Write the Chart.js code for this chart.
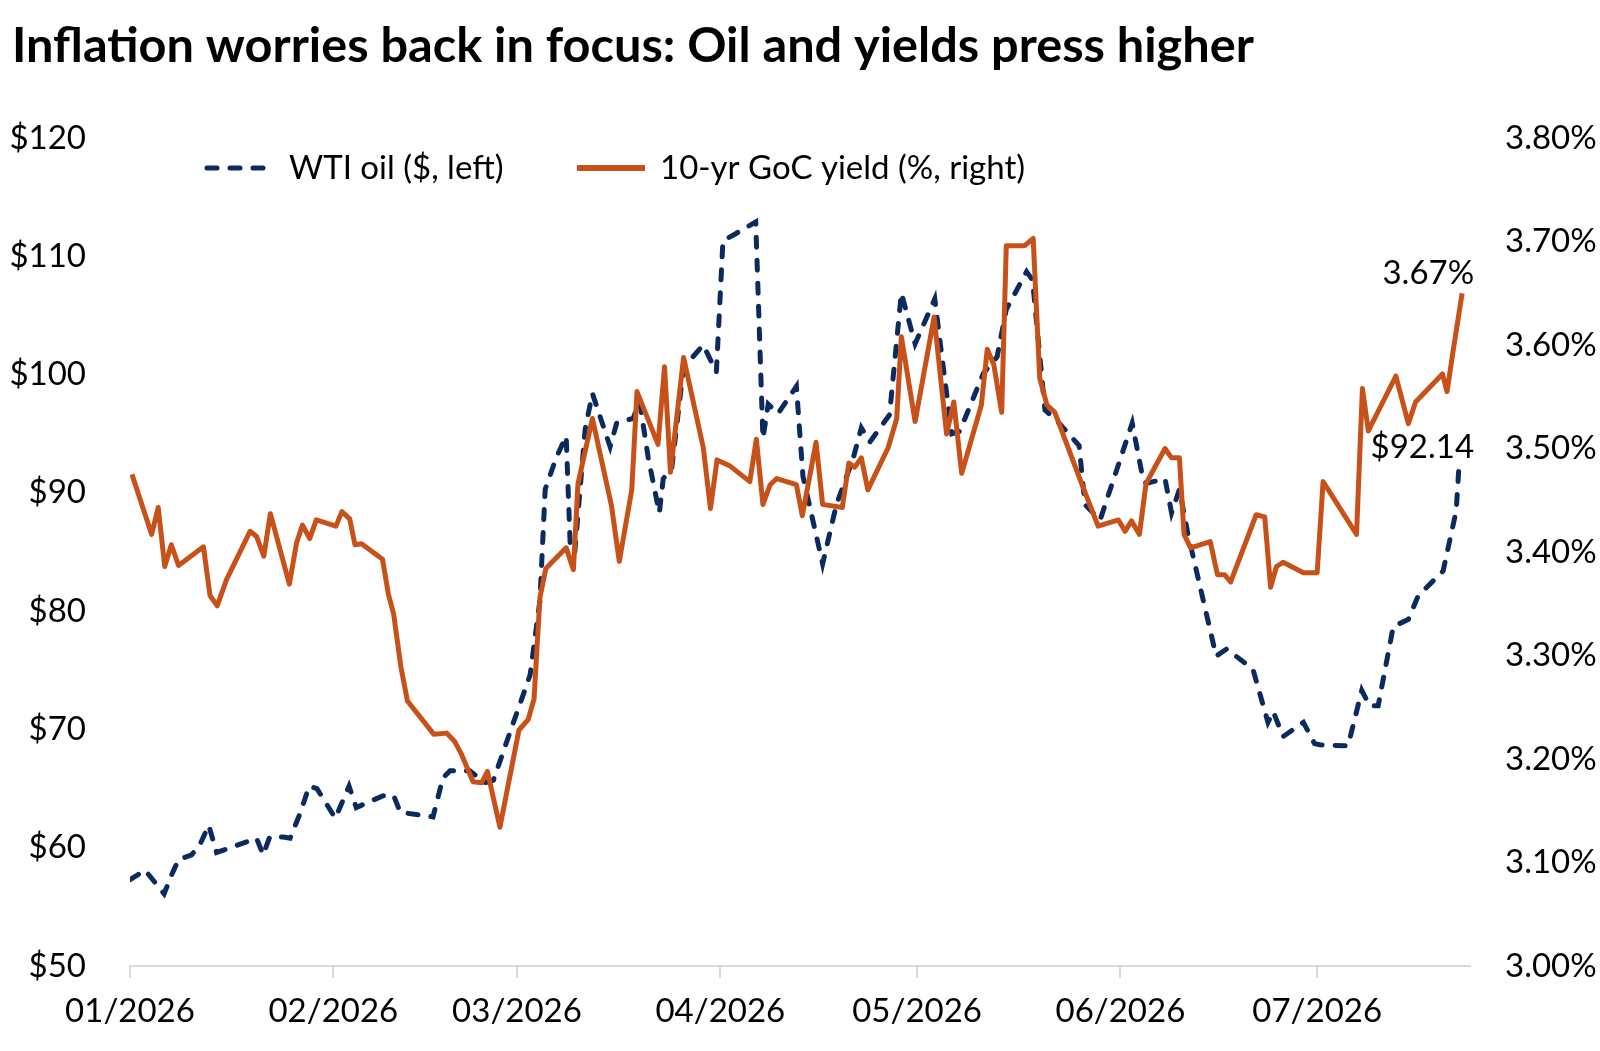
<!DOCTYPE html>
<html>
<head>
<meta charset="utf-8">
<script src="https://cdn.jsdelivr.net/npm/chart.js@4.4.1/dist/chart.umd.min.js"></script>
<style>
  html, body { margin: 0; padding: 0; background: #fff; }
  canvas { display: block; }
</style>
</head>
<body>
<canvas id="myChart" width="1600" height="1051"></canvas>
<script>
const titleText = "Inflation worries back in focus: Oil and yields press higher";
const seriesNames = ["WTI oil ($, left)", "10-yr GoC yield (%, right)"];
const endLabels = ["$92.14", "3.67%"];

// days counted from 01/01/2026
const monthStarts = [0, 31, 59, 90, 120, 151, 181];
const monthLabels = ["01/2026", "02/2026", "03/2026", "04/2026", "05/2026", "06/2026", "07/2026"];

const oilDays = [
  0, 2.3, 5.2, 6.1, 7.4, 9.4, 10.7, 12.0, 13.2, 15.8, 19.3, 20.3, 21.3, 23.4, 24.4, 26.0, 27.3, 28.5,
  31.3, 33.4, 34.5, 38.6, 40.2, 41.2, 46.2, 47.7, 48.8, 51.8, 54.1, 55.4, 57.9, 61.0, 62.5, 63.3,
  65.0, 66.5, 67.1, 67.8, 69.4, 70.5, 73.2, 74.2, 76.7, 77.7, 79.0, 80.7, 81.3, 82.6, 84.4, 87.4,
  89.4, 90.4, 92.0, 95.4, 96.5, 97.3, 98.8, 101.6, 102.6, 105.6, 107.7, 110.3, 111.5, 112.8, 115.8,
  117.6, 119.7, 122.7, 123.7, 125.3, 126.5, 130.1, 132.2, 133.6, 136.7, 137.6, 139.5, 141.3, 144.7,
  145.6, 147.9, 152.8, 154.5, 155.0, 157.8, 158.8, 160.0, 161.3, 165.6, 167.2, 171.2, 173.5, 174.3,
  175.8, 178.9, 180.6, 181.4, 185.7, 187.8, 189.0, 190.3, 192.6, 194.9, 196.4, 200.2, 202.2, 202.6, 204.0
];
const oilPrices = [
  57.3, 58.1, 56.1, 57.4, 59.0, 59.4, 60.3, 61.9, 59.6, 60.1, 60.8, 59.4, 60.9, 60.9, 60.8, 63.0, 65.2, 65.0,
  62.5, 65.2, 63.4, 64.4, 64.4, 63.0, 62.6, 65.9, 66.5, 66.5, 65.5, 65.7, 69.7, 74.6, 80.9, 90.3,
  93.0, 94.8, 85.8, 84.9, 95.4, 98.4, 93.9, 95.9, 96.3, 97.7, 93.0, 88.3, 91.2, 92.1, 100.6, 102.5,
  100.2, 111.3, 111.8, 112.9, 94.6, 97.5, 96.7, 99.0, 91.4, 84.0, 89.0, 93.0, 95.5, 94.3, 96.6,
  106.9, 102.6, 106.4, 101.9, 95.0, 95.2, 100.1, 101.5, 105.5, 108.7, 108.0, 97.0, 96.1, 94.0,
  89.0, 87.7, 95.9, 91.0, 90.8, 91.2, 88.3, 90.3, 86.5, 76.2, 76.8, 75.1, 70.6, 71.5,
  69.4, 70.6, 68.8, 68.7, 68.6, 73.3, 72.0, 72.0, 78.7, 79.3, 81.3, 83.4, 88.5, 92.1, 92.2
];

const yieldDays = [
  0.3, 3.3, 4.3, 5.3, 6.3, 7.4, 11.2, 12.2, 13.3, 14.7, 18.3, 19.3, 20.4, 21.4, 24.3, 25.4, 26.3, 27.4,
  28.4, 31.4, 32.3, 33.5, 34.3, 35.3, 38.5, 39.4, 40.2, 41.3, 42.3, 46.3, 48.3, 49.5, 50.5, 52.3, 53.6,
  54.5, 56.4, 59.3, 60.7, 61.6, 62.5, 63.4, 66.5, 67.6, 68.3, 70.5, 73.4, 74.6, 76.5, 77.3, 80.5,
  81.5, 82.4, 84.4, 87.4, 88.5, 89.5, 91.5, 94.5, 95.5, 96.5, 97.6, 98.6, 101.6, 102.5, 104.6, 105.6,
  108.6, 109.6, 110.5, 111.5, 112.5, 115.6, 116.9, 117.6, 119.7, 122.6, 124.5, 125.6, 126.8, 129.8,
  130.7, 131.7, 132.9, 133.6, 136.4, 137.7, 138.7, 139.8, 141.0, 144.8, 147.6, 150.7, 151.7, 152.7,
  153.9, 154.9, 157.8, 158.8, 160.0, 160.7, 161.7, 164.7, 165.8, 166.9, 167.8, 171.7, 173.0, 173.9,
  174.8, 175.8, 178.9, 181.0, 181.9, 187.0, 187.9, 188.8, 193.0, 194.9, 196.0, 200.1, 200.8, 201.7, 203.1
];
const yieldValues = [
  3.475, 3.417, 3.443, 3.386, 3.407, 3.387, 3.405, 3.358, 3.348, 3.373, 3.420, 3.415, 3.396, 3.437, 3.369, 3.409, 3.426, 3.413,
  3.431, 3.425, 3.439, 3.432, 3.407, 3.408, 3.393, 3.359, 3.340, 3.289, 3.256, 3.224, 3.225, 3.217, 3.205, 3.178, 3.177,
  3.188, 3.134, 3.228, 3.238, 3.258, 3.356, 3.384, 3.404, 3.383, 3.466, 3.529, 3.445, 3.391, 3.460, 3.555, 3.504,
  3.579, 3.477, 3.588, 3.501, 3.442, 3.489, 3.483, 3.468, 3.509, 3.446, 3.465, 3.471, 3.465, 3.435, 3.506, 3.446,
  3.443, 3.486, 3.482, 3.491, 3.460, 3.501, 3.529, 3.608, 3.526, 3.627, 3.514, 3.545, 3.476, 3.542,
  3.596, 3.581, 3.535, 3.696, 3.696, 3.703, 3.568, 3.542, 3.535, 3.471, 3.425, 3.431, 3.420, 3.430,
  3.417, 3.466, 3.500, 3.491, 3.491, 3.417, 3.404, 3.410, 3.378, 3.378, 3.371, 3.436, 3.434, 3.366,
  3.386, 3.390, 3.380, 3.380, 3.468, 3.417, 3.558, 3.517, 3.570, 3.524, 3.545, 3.572, 3.555, 3.593, 3.650
];

const navy = "#0B2A5E";
const orange = "#C8511A";
const oilDash = [10, 13];
const fontName = "Lato";

Chart.defaults.font.family = fontName;
Chart.defaults.color = "#000";

// title, legend inside the plot and the end-of-series labels
const overlay = {
  id: "overlay",
  afterDraw(chart) {
    const ctx = chart.ctx;
    ctx.save();
    ctx.fillStyle = "#000";
    ctx.textBaseline = "middle";

    ctx.font = "bold 44px " + fontName;
    let size = 44 * 1241 / ctx.measureText(titleText).width;
    ctx.font = "bold " + size.toFixed(1) + "px " + fontName;
    ctx.textAlign = "left";
    ctx.fillText(titleText, 12, 46);

    // legend
    ctx.lineWidth = 5;
    ctx.lineCap = "round";
    ctx.strokeStyle = navy;
    ctx.setLineDash(oilDash);
    ctx.beginPath();
    ctx.moveTo(207, 168);
    ctx.lineTo(265, 168);
    ctx.stroke();
    ctx.setLineDash([]);
    ctx.lineCap = "butt";
    ctx.lineWidth = 6;
    ctx.strokeStyle = orange;
    ctx.beginPath();
    ctx.moveTo(577, 168);
    ctx.lineTo(645, 168);
    ctx.stroke();
    ctx.font = "33px " + fontName;
    ctx.fillText(seriesNames[0], 289, 168);
    ctx.fillText(seriesNames[1], 660, 168);

    // end labels
    const xs = chart.scales.x;
    const n1 = oilDays.length - 1;
    const n2 = yieldDays.length - 1;
    const ox = xs.getPixelForValue(oilDays[n1]);
    const oy = chart.scales.y.getPixelForValue(oilPrices[n1]);
    const yx = xs.getPixelForValue(yieldDays[n2]);
    const yy = chart.scales.y1.getPixelForValue(yieldValues[n2]);
    ctx.textAlign = "right";
    ctx.fillText(endLabels[0], ox + 6, oy - 19);
    ctx.fillText(endLabels[1], yx + 12, yy - 20);
    ctx.restore();
  }
};

new Chart(document.getElementById("myChart"), {
  type: "line",
  data: {
    datasets: [
      {
        label: seriesNames[0],
        data: oilDays.map((d, i) => ({ x: d, y: oilPrices[i] })),
        yAxisID: "y",
        borderColor: navy,
        borderWidth: 5,
        borderDash: oilDash,
        borderCapStyle: "round",
        pointRadius: 0,
        tension: 0,
        order: 2,
      },
      {
        label: seriesNames[1],
        data: yieldDays.map((d, i) => ({ x: d, y: yieldValues[i] })),
        yAxisID: "y1",
        borderColor: orange,
        borderWidth: 5,
        borderJoinStyle: "round",
        pointRadius: 0,
        tension: 0,
        order: 1,
      },
    ],
  },
  options: {
    responsive: false,
    animation: false,
    devicePixelRatio: 1,
    layout: { padding: { top: 138, left: 0, right: 0, bottom: 0 } },
    plugins: {
      legend: { display: false },
      tooltip: { enabled: false },
    },
    scales: {
      x: {
        type: "linear",
        min: 0,
        max: 204.3,
        afterBuildTicks: (axis) => {
          axis.ticks = monthStarts.map((v) => ({ value: v }));
        },
        afterFit: (axis) => { axis.height = 85; },
        ticks: {
          callback: (v) => monthLabels[monthStarts.indexOf(v)],
          autoSkip: false,
          maxRotation: 0,
          padding: 14,
          font: { size: 33 },
        },
        grid: {
          drawOnChartArea: false,
          tickLength: 12,
          color: "#d9d9d9",
          lineWidth: 2,
        },
        border: { color: "#d9d9d9", width: 2 },
      },
      y: {
        position: "left",
        min: 50,
        max: 120,
        afterFit: (axis) => { axis.width = 130; },
        ticks: {
          stepSize: 10,
          callback: (v) => "$" + v,
          padding: 44,
          font: { size: 33 },
        },
        grid: { display: false, drawTicks: false },
        border: { display: false },
      },
      y1: {
        position: "right",
        min: 3.0,
        max: 3.8,
        afterFit: (axis) => { axis.width = 130; },
        ticks: {
          stepSize: 0.1,
          callback: (v) => v.toFixed(2) + "%",
          padding: 35,
          font: { size: 33 },
        },
        grid: { display: false, drawTicks: false },
        border: { display: false },
      },
    },
  },
  plugins: [overlay],
});
</script>
</body>
</html>
